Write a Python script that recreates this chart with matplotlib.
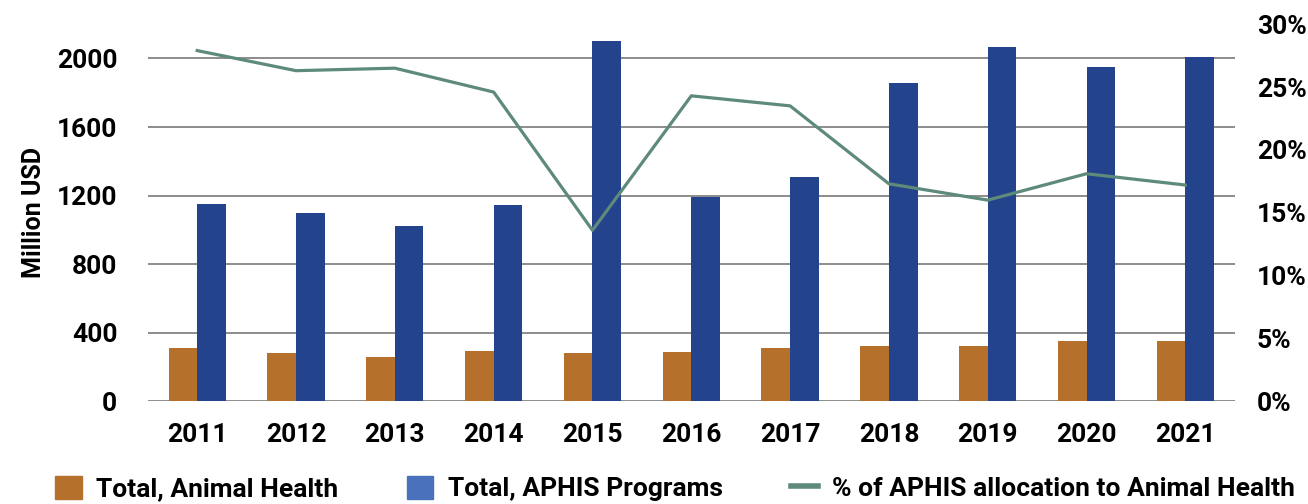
"""APHIS animal health allocation, 2011-2021."""
import matplotlib
matplotlib.use("Agg")
import matplotlib.pyplot as plt
import numpy as np

plt.rcParams['font.family'] = ['Roboto', 'DejaVu Sans']
plt.rcParams['font.weight'] = 'bold'

color_ah = "#B5712B"
color_aphis = "#23448C"
color_aphis_leg = "#4A72BC"
color_pct = "#5E8A7C"
color_grid = "#8C8C8C"

years = ["2011", "2012", "2013", "2014", "2015", "2016",
         "2017", "2018", "2019", "2020", "2021"]
animal_health = [309, 280, 257, 292, 280, 286, 309, 321, 321, 350, 350]
aphis_total = [1150, 1098, 1022, 1145, 2102, 1191, 1308, 1857, 2067, 1950,
               2009]
pct_animal_health = [27.9, 26.3, 26.5, 24.6, 13.6, 24.3, 23.5, 17.3, 16.0,
                     18.1, 17.2]

fig = plt.figure(figsize=(13.08, 5.04), dpi=100)
ax = fig.add_axes([0.113, 0.204, 0.831, 0.748])

x = np.arange(len(years))
width = 0.29

ax.bar(x - width/2, animal_health, width, color=color_ah,
       label="Total, Animal Health", zorder=3)
ax.bar(x + width/2, aphis_total, width, color=color_aphis,
       label="Total, APHIS Programs", zorder=3)

ax.set_xlim(-0.5, len(years) - 0.5)
ax.set_ylim(0, 2200)
ax.set_yticks(range(0, 2001, 400))
ax.set_xticks(x)
ax.set_xticklabels(years, fontweight='bold')
ax.set_yticklabels([str(v) for v in range(0, 2001, 400)], fontweight='bold')
ax.yaxis.grid(True, color=color_grid, linewidth=1.4)
ax.set_axisbelow(True)
for s in ax.spines.values():
    s.set_visible(False)
ax.tick_params(axis='both', length=0, labelsize=19)
ax.tick_params(axis='y', pad=22)
ax.tick_params(axis='x', pad=16)
ax.set_ylabel("Million USD", fontsize=18, fontweight='bold', labelpad=8)

ax2 = ax.twinx()
ax2.plot(x, pct_animal_health, color=color_pct, linewidth=2.3,
         label="% of APHIS allocation to Animal Health", zorder=4)
ax2.set_ylim(0, 30)
ax2.set_yticks(range(0, 31, 5))
ax2.set_yticklabels([f"{v}%" for v in range(0, 31, 5)], fontweight='bold')
for s in ax2.spines.values():
    s.set_visible(False)
ax2.tick_params(axis='y', length=0, labelsize=19, pad=16)

handles = [
    plt.Rectangle((0, 0), 1, 1, color=color_ah),
    plt.Rectangle((0, 0), 1, 1, color=color_aphis_leg),
    plt.Line2D([0], [0], color=color_pct, linewidth=4),
]
labels = ["Total, Animal Health", "Total, APHIS Programs",
          "% of APHIS allocation to Animal Health"]
fig.legend(handles, labels, loc="lower left", bbox_to_anchor=(0.024, -0.042),
           ncol=3, frameon=False, prop={'size': 19, 'weight': 'bold'},
           handlelength=1.0, handleheight=1.0, handletextpad=0.55,
           columnspacing=2.6)

fig.savefig("out.png", dpi=100)
